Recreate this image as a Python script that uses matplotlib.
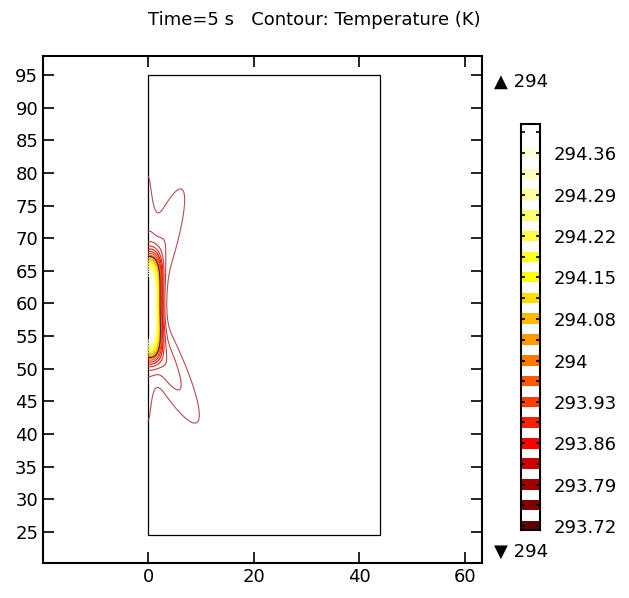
import numpy as np
import matplotlib
matplotlib.use("Agg")
import matplotlib.pyplot as plt
from matplotlib.patches import Rectangle

plt.rcParams['font.family'] = ['DejaVu Sans']
plt.rcParams['font.size'] = 13

# contour levels (K) and colorbar labels
levels = [293.720, 293.756, 293.791, 293.827, 293.862, 293.898, 293.933,
          293.969, 294.004, 294.040, 294.076, 294.111, 294.147, 294.182,
          294.218, 294.253, 294.289, 294.324, 294.360, 294.396]
level_labels = ['293.72', '', '293.79', '', '293.86', '', '293.93', '',
                '294', '', '294.08', '', '294.15', '', '294.22', '',
                '294.29', '', '294.36', '']
level_colors = ['#600000', '#800000', '#a00000', '#cc0000', '#ff0000',
                '#ff2000', '#ff4000', '#ff5a00', '#ff7a00', '#ff9a00',
                '#ffbb00', '#ffdd00', '#ffff00', '#ffff20', '#ffff48',
                '#ffff70', '#ffffa0', '#ffffc0', '#ffffe0', '#ffffff']
# thin lines look lighter on screen
line_colors = ['#b45050', '#c04444', '#cc3838', '#dd2a2a'] + level_colors[4:]
t_min_label = '294'
t_max_label = '294'

# geometry (mm)
domain_x = [0, 44]
domain_y = [24.6, 95]

# temperature field parameters
T_back = 293.69
core = dict(amp=0.68, yc=59.5, wx=2.3, wy=7.3)
wall = dict(amp=0.05, yc=60.7, wx=1.44, wy=26.0)
ridge_start = [(0.0, 63.0), (0.0, 56.0)]
ridge_tip = [(6.4, 77.5), (9.3, 41.8)]
ridge_amp = [0.079, 0.116]
ridge_along = [16.1, 14.6]
ridge_perp = [3.0, 2.9]
dark_level = 0.30

x = np.linspace(domain_x[0], domain_x[1], 500)
y = np.linspace(domain_y[0], domain_y[1], 800)
X, Y = np.meshgrid(x, y)

T = np.full_like(X, T_back)
T += core['amp'] * np.exp(-(X / core['wx'])**3 - ((Y - core['yc']) / core['wy'])**4)
T += wall['amp'] * np.exp(-(X / wall['wx'])**2 - ((Y - wall['yc']) / wall['wy'])**2)
for (x0, y0), (x1, y1), a, sa, sp in zip(ridge_start, ridge_tip, ridge_amp,
                                         ridge_along, ridge_perp):
    u = np.array([x1 - x0, y1 - y0])
    u = u / np.linalg.norm(u)
    s = (X - x0) * u[0] + (Y - y0) * u[1]
    p = (X - x0) * u[1] - (Y - y0) * u[0]
    T += a * np.exp(-(s / sa)**2 - (p / sp)**2)

fig = plt.figure(figsize=(6.29, 5.98), dpi=100)
ax = fig.add_axes([43 / 629, 35 / 598, 439 / 629, 507 / 598])

ax.contour(X, Y, T, levels=levels, colors=line_colors, linewidths=0.8)
ax.contour(X, Y, T, levels=[T_back + dark_level], colors='#262020', linewidths=0.7)
ax.add_patch(Rectangle((domain_x[0], domain_y[0]), domain_x[1] - domain_x[0],
                       domain_y[1] - domain_y[0], fill=False, ec='black', lw=0.9))

ax.set_xlim(-19.9, 63.3)
ax.set_ylim(20.25, 97.9)
ax.set_xticks([0, 20, 40, 60])
ax.set_yticks(np.arange(25, 96, 5))
ax.tick_params(direction='in', length=8, width=1.2, top=True, right=True)
for sp_ in ax.spines.values():
    sp_.set_linewidth(1.5)

fig.text(0.5, 1 - 20 / 598, 'Time=5 s   Contour: Temperature (K)',
         ha='center', va='center', fontsize=13)

# colour legend
cax = fig.add_axes([521 / 629, 68 / 598, 19 / 629, 406 / 598])
step = levels[1] - levels[0]
cax.barh(levels, 1, height=0.5 * step, left=0, color=level_colors)
cax.set_xlim(0, 1)
cax.set_ylim(levels[0] - 0.19 * step, levels[-1] + 0.39 * step)
cax.set_xticks([])
cax.set_yticks(levels)
cax.set_yticklabels(level_labels)
cax.tick_params(axis='y', direction='in', length=3, width=1.2, left=True,
                right=True, labelleft=False, labelright=True, pad=10)
for sp_ in cax.spines.values():
    sp_.set_linewidth(1.5)

fig.text(494 / 629, 1 - 82 / 598, '\u25b2 ' + t_max_label, ha='left', va='center', fontsize=13)
fig.text(494 / 629, 1 - 552 / 598, '\u25bc ' + t_min_label, ha='left', va='center', fontsize=13)

fig.savefig('out.png', dpi=100)
